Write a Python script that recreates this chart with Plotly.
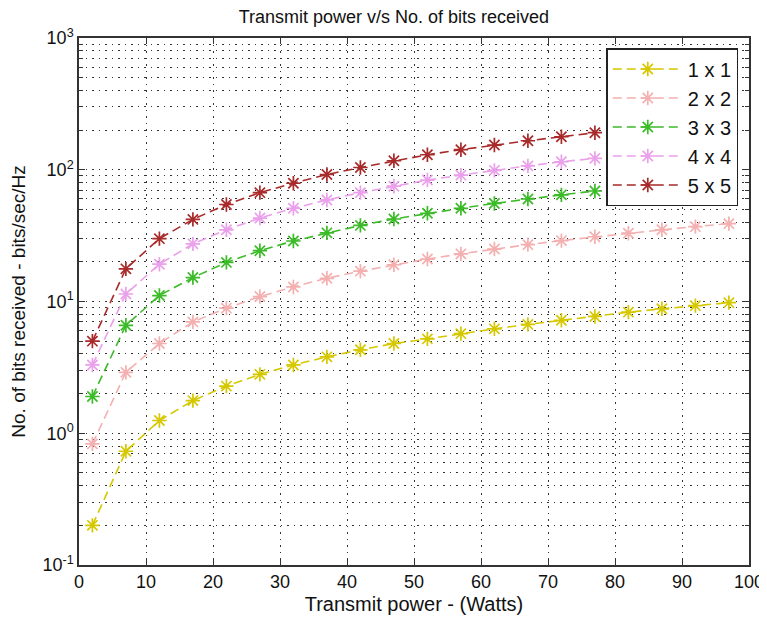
import plotly.graph_objects as go

power_a = [2, 7, 12, 17, 22, 27, 32, 37, 42, 47, 52, 57, 62, 67, 72, 77, 82, 87, 92, 97]
power_b = [2, 7, 12, 17, 22, 27, 32, 37, 42, 47, 52, 57, 62, 67, 72, 77]

bits_1x1 = [0.2, 0.73, 1.25, 1.77, 2.28, 2.8, 3.3, 3.8, 4.3, 4.8, 5.2, 5.7, 6.2, 6.7, 7.2, 7.7, 8.3, 8.8, 9.3, 9.8]
bits_2x2 = [0.83, 2.9, 4.8, 7.0, 8.9, 10.9, 12.9, 15.0, 17.0, 19.0, 21.0, 23.0, 25.0, 27.0, 29.0, 31.0, 33.0, 35.0, 37.0, 39.0]
bits_3x3 = [1.9, 6.6, 11.1, 15.2, 19.8, 24.3, 28.8, 33.2, 37.8, 42.3, 46.7, 51.0, 55.5, 60.0, 64.5, 69.0]
bits_4x4 = [3.3, 11.4, 19.2, 27.4, 35.0, 43.0, 51.0, 59.0, 67.0, 75.0, 83.5, 91.0, 99.0, 107.0, 115.0, 122.0]
bits_5x5 = [5.0, 17.7, 30.0, 42.0, 54.5, 67.0, 79.0, 92.0, 104.0, 117.0, 130.0, 142.0, 154.0, 166.0, 178.0, 191.0]

series_names = ["1 x 1", "2 x 2", "3 x 3", "4 x 4", "5 x 5"]
series_x = [power_a, power_a, power_b, power_b, power_b]
series_y = [bits_1x1, bits_2x2, bits_3x3, bits_4x4, bits_5x5]
series_colors = ["#d6c800", "#f4b0b0", "#3cbb28", "#eaa0ea", "#a82a2a"]

x_ticks = [0, 10, 20, 30, 40, 50, 60, 70, 80, 90, 100]
y_ticks = [0.1, 1, 10, 100, 1000]
y_ticktext = ["10<sup>-1</sup>", "10<sup>0</sup>", "10<sup>1</sup>", "10<sup>2</sup>", "10<sup>3</sup>"]

FONT = "Liberation Sans, Arial, sans-serif"
INK = "#111111"
GRID = "#333333"

fig = go.Figure()
for name, xs, ys, c in zip(series_names, series_x, series_y, series_colors):
    fig.add_trace(go.Scatter(
        x=xs, y=ys, name=name, mode="lines+markers",
        line=dict(color=c, width=1.6, dash="9px,5px"),
        marker=dict(symbol="asterisk-open", size=12, line=dict(color=c, width=1.7), color=c),
    ))

minor_vals = [m * 10 ** k for k in range(-1, 3) for m in range(2, 10)]

# page body has an 8px margin, so the figure is sized to fit the 767x622 window
fig.update_layout(
    width=759, height=614,
    margin=dict(l=71, r=18, t=30, b=57),
    paper_bgcolor="white", plot_bgcolor="white",
    font=dict(family=FONT, color=INK),
    title=dict(text="Transmit power v/s No. of bits received", x=0.47, xref="paper",
               y=1 - 8.5 / 614, yref="container", xanchor="center", yanchor="middle",
               font=dict(size=18, family=FONT, color=INK)),
    showlegend=True,
    legend=dict(x=0.984, y=0.981, xanchor="right", yanchor="top",
                bordercolor="#222222", borderwidth=1.5, bgcolor="white",
                font=dict(size=20, family=FONT, color=INK),
                itemwidth=70),
)

fig.update_xaxes(
    range=[0, 100], tickvals=x_ticks, ticks="inside", ticklen=6, tickcolor=GRID,
    showline=True, linecolor=GRID, linewidth=1.5, mirror="ticks",
    showgrid=True, gridcolor=GRID, gridwidth=1, griddash="1.5px,5px",
    zeroline=False, automargin=False, tickfont=dict(size=18, family=FONT, color=INK),
    title=dict(text="Transmit power - (Watts)", font=dict(size=20, family=FONT, color=INK), standoff=6),
)
fig.update_yaxes(
    type="log", range=[-1, 3], tickvals=y_ticks, ticktext=y_ticktext,
    ticks="inside", ticklen=6, tickcolor=GRID,
    showline=True, linecolor=GRID, linewidth=1.5, mirror="ticks",
    showgrid=True, gridcolor=GRID, gridwidth=1, griddash="1.5px,5px",
    zeroline=False, automargin=False, tickfont=dict(size=18, family=FONT, color=INK),
    minor=dict(tickvals=minor_vals, ticks="inside", ticklen=4, tickcolor=GRID,
               showgrid=True, gridcolor=GRID, gridwidth=1, griddash="1.5px,5px"),
    title=dict(text="No. of bits received - bits/sec/Hz", font=dict(size=19, family=FONT, color=INK), standoff=12),
)

fig.write_html("out.html")
